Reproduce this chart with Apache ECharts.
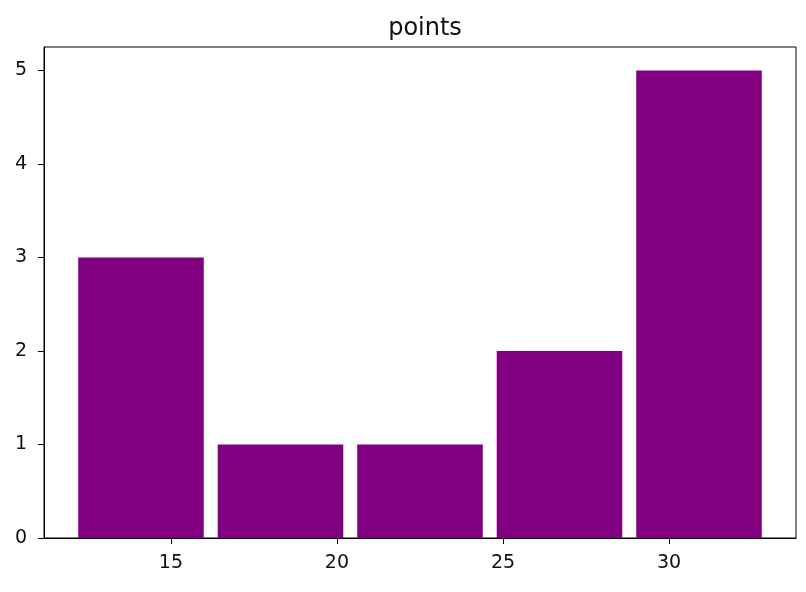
<!DOCTYPE html>
<html>
<head>
<meta charset="utf-8">
<script src="https://cdn.jsdelivr.net/npm/echarts@6/dist/echarts.min.js"></script>
<style>html,body{margin:0;padding:0;background:#fff}#c{width:806px;height:592px}</style>
</head>
<body>
<div id="c"></div>
<script>
const binStarts = [12.0, 16.2, 20.4, 24.6, 28.8];
const binEnds = [16.2, 20.4, 24.6, 28.8, 33.0];
const counts = [3, 1, 1, 2, 5];
const xTicks = [15, 20, 25, 30];
const yTicks = [0, 1, 2, 3, 4, 5];
const titleText = 'points';
const rwidth = 0.9;

const data = binStarts.map((s, i) => [s, binEnds[i], counts[i]]);
const chart = echarts.init(document.getElementById('c'), null, {renderer: 'canvas'});
const font = 'DejaVu Sans';
chart.setOption({
  animation: false,
  title: {text: titleText, left: 420, top: 12, textAlign: 'center',
    textStyle: {fontFamily: font, fontSize: 24, fontWeight: 'normal', color: '#111'}},
  grid: {left: 44, right: 10, top: 47, bottom: 54, show: true, borderColor: '#000', borderWidth: 1, backgroundColor: 'transparent'},
  xAxis: {type: 'value', min: 11.18, max: 33.82,
    axisLine: {show: true, onZero: false, lineStyle: {color: '#000', width: 1}},
    axisTick: {show: true, length: 6, customValues: xTicks, lineStyle: {color: '#000'}},
    axisLabel: {customValues: xTicks, fontFamily: font, fontSize: 19, color: '#111', margin: 16},
    splitLine: {show: false}},
  yAxis: {type: 'value', min: 0, max: 5.25,
    axisLine: {show: true, lineStyle: {color: '#000', width: 1}},
    axisTick: {show: true, length: 6, customValues: yTicks, lineStyle: {color: '#000'}},
    axisLabel: {customValues: yTicks, fontFamily: font, fontSize: 19, color: '#111', margin: 17},
    splitLine: {show: false}},
  series: [{
    type: 'custom',
    data: data,
    encode: {x: [0, 1], y: 2},
    renderItem: function (params, api) {
      const s = api.value(0), e = api.value(1), v = api.value(2);
      const w = (e - s) * rwidth;
      const c = (s + e) / 2;
      const p0 = api.coord([c - w / 2, v]);
      const p1 = api.coord([c + w / 2, 0]);
      return {type: 'rect', shape: {x: p0[0], y: p0[1], width: p1[0] - p0[0], height: p1[1] - p0[1]},
        style: {fill: '#800080'}};
    }
  }]
});
</script>
</body>
</html>
